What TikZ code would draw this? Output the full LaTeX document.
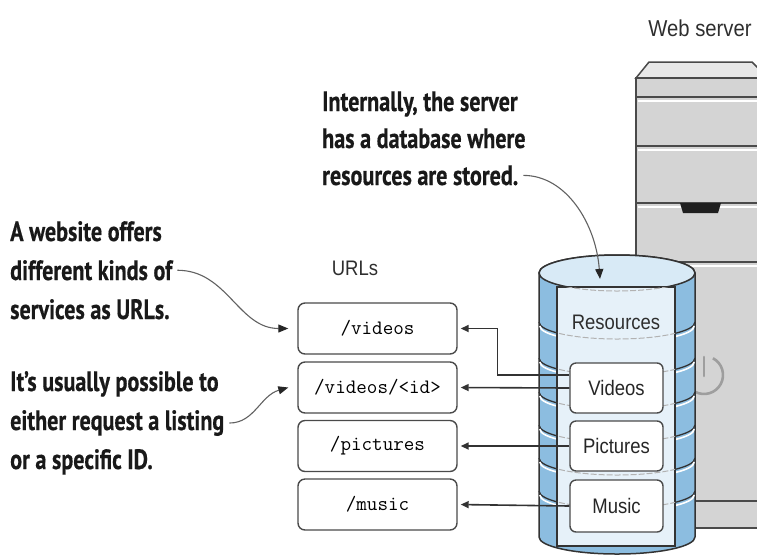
\documentclass[tikz,border=0pt]{standalone}
\usepackage{fontspec}
\setmainfont{Liberation Sans}[FakeStretch=0.88]
\newfontfamily\calloutfont{PT Sans}[FakeStretch=0.79, BoldFeatures={FakeBold=0.5}]
\usetikzlibrary{arrows.meta}

\definecolor{towerfill}{HTML}{D4D4D4}
\definecolor{towertop}{HTML}{E8E8E8}
\definecolor{edgegray}{HTML}{4A4A4A}
\definecolor{dbblue}{HTML}{8CBDE0}
\definecolor{dbtop}{HTML}{D8EAF6}
\definecolor{dbpanel}{HTML}{E6F1F9}
\definecolor{inkgray}{HTML}{333333}

\tikzset{
  callout/.style={anchor=base west, inner sep=0pt, text=black!90,
    font=\calloutfont\bfseries\fontsize{28}{32}\selectfont},
  plainlabel/.style={inner sep=0pt, text=black!82, font=\fontsize{21}{24}\selectfont},
  urlbox/.style={draw=edgegray, line width=1.4pt, rounded corners=7pt, fill=white,
    minimum width=159pt, minimum height=51pt, inner sep=0pt, text=black,
    font=\ttfamily\fontsize{20.5}{22}\selectfont},
  resbox/.style={draw=edgegray, line width=1.4pt, rounded corners=6pt, fill=white,
    minimum width=93pt, minimum height=50pt, inner sep=0pt, text=black!85,
    font=\fontsize{21}{24}\selectfont},
  link/.style={draw=inkgray, line width=1.6pt, -{Triangle[length=8pt,width=7pt]}, shorten >=3pt},
  note/.style={draw=black!62, line width=1.1pt,
    -{Triangle[length=10pt,width=8pt,color=black!85]}, shorten <=5pt},
  towerline/.style={draw=edgegray, line width=1.5pt},
  shine/.style={draw=white, line width=2pt},
  diskline/.style={draw=inkgray, line width=1.3pt},
  diskshine/.style={draw=white, line width=1.6pt},
  panelline/.style={draw=black!30, line width=1pt, dash pattern=on 6pt off 2pt},
}

\begin{document}
\begin{tikzpicture}[x=1pt,y=-1pt]
\useasboundingbox (0,0) rectangle (757,558);
\clip (0,0) rectangle (757,558);

% ---------- web server tower ----------
\node[plainlabel, anchor=base, font=\fontsize{23}{25}\selectfont] (srvlabel) at (700,36) {Web server};
\fill[towerfill] (636,78) rectangle (775,528);
\filldraw[fill=towertop, towerline] (636,78) -- (649,62) -- (752,62) -- (768,78) -- cycle;
\draw[towerline] (636,528) -- (636,78) -- (775,78);
\foreach \yy in {97,146,203,262} {
  \draw[towerline] (636,\yy) -- (775,\yy);
  \draw[shine] (637.5,\yy+3.5) -- (775,\yy+3.5);
}
\draw[towerline] (636,501) -- (775,501);
\draw[towerline] (636,528) -- (775,528);
\fill[black!88] (680,203) -- (721,203) -- (718,213) -- (683,213) -- cycle;
% power symbol
\draw[black!38, line width=2.6pt] (704,375) ++(62:19pt) arc[start angle=62, end angle=-242, radius=19pt];
\draw[black!38, line width=2.6pt, line cap=round] (704,357) -- (704,376);

% ---------- database cylinder ----------
\filldraw[fill=dbblue, draw=inkgray, line width=1.5pt]
  (539,273) -- (539,537) arc[start angle=180, end angle=360, x radius=78pt, y radius=17pt]
  -- (695,273) arc[start angle=0, end angle=180, x radius=78pt, y radius=18pt] -- cycle;
\foreach \yy in {322,358,392,425,458,491} {
  \draw[diskline] (539,\yy) arc[start angle=180, end angle=360, x radius=78pt, y radius=17pt];
  \draw[diskshine] (539.8,\yy+4) arc[start angle=180, end angle=360, x radius=77.2pt, y radius=16pt];
}
\filldraw[fill=dbtop, draw=inkgray, line width=1.5pt] (617,273) ellipse [x radius=78pt, y radius=18pt];
\filldraw[fill=dbpanel, draw=inkgray, line width=1.3pt] (557,287) rectangle (675,546);
\begin{scope}
  \clip (557,287) rectangle (675,546);
  \draw[panelline] (539,273) arc[start angle=180, end angle=360, x radius=78pt, y radius=18pt];
  \foreach \yy in {322,358,392,425,458,491} {
    \draw[panelline] (539,\yy) arc[start angle=180, end angle=360, x radius=78pt, y radius=17pt];
  }
\end{scope}
\coordinate (dbin) at (600,279);

\node[plainlabel] (reslabel) at (616,322) {Resources};
\node[resbox] (vid) at (616.5,388) {Videos};
\node[resbox] (pic) at (616.5,446) {Pictures};
\node[resbox, minimum height=52pt] (mus) at (616.5,506) {Music};

% ---------- URL list ----------
\node[plainlabel] (urllabel) at (355,268) {URLs};
\node[urlbox] (u1) at (377.5,328.5) {/videos};
\node[urlbox] (u2) at (377.5,387.5) {/videos/<id>};
\node[urlbox] (u3) at (377.5,446) {/pictures};
\node[urlbox] (u4) at (377.5,504.5) {/music};

\draw[link] ([yshift=13pt]vid.west) -- ++(-72,0) |- (u1.east);
\draw[link] (vid.west) -- (u2.east);
\draw[link] (pic.west) -- (u3.east);
\draw[link] (mus.west) -- (u4.east);

% ---------- callouts ----------
\node[callout] (t1) at (322,111) {Internally, the server};
\node[callout] (t2) at (322,148) {has a database where};
\node[callout] (t3) at (322,185) {resources are stored.};

\node[callout] (a1) at (10,241) {A website offers};
\node[callout] (a2) at (10,280) {different kinds of};
\node[callout] (a3) at (10,319) {services as URLs.};

\node[callout] (b1) at (10,391) {It’s usually possible to};
\node[callout] (b2) at (10,430) {either request a listing};
\node[callout] (b3) at (10,469) {or a specific ID.};

\draw[note] (t3.east) .. controls +(48,0) and +(-4,-55) .. (dbin);
\draw[note] (a2.east) .. controls +(55,0) and +(-50,0) .. ([xshift=-9pt]u1.west);
\draw[note] (b2.east) .. controls +(30,0) and +(-28,8) .. ([xshift=-9pt]u2.west);
\end{tikzpicture}
\end{document}
